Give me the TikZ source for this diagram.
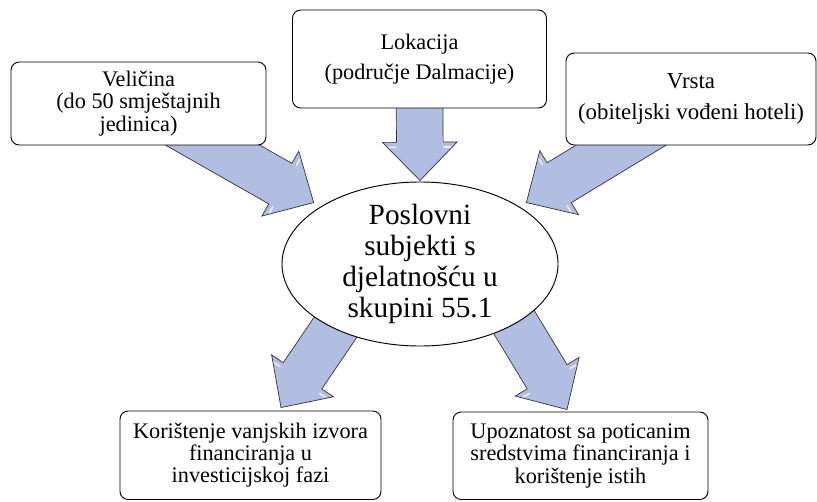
\documentclass[tikz,border=0pt]{standalone}
\usepackage{fontspec}
\setmainfont{Liberation Serif}
\usetikzlibrary{shapes,calc,backgrounds,positioning}
\definecolor{arrowblue}{RGB}{178,190,225}

% block arrow from a tail point to a tip point
\newcommand{\blockarrow}[2]{%
  \coordinate (hb) at ($(#2)!1.15cm!(#1)$);
  \coordinate (gl) at ($(#2)!1.0cm!(#1)$);
  \draw[blockarr] ($(#1)!0.7cm!90:(#2)$) -- ($(hb)!0.7cm!90:(#2)$) -- ($(hb)!1.12cm!90:(#2)$)
    -- (#2) -- ($(hb)!1.12cm!-90:(#2)$) -- ($(hb)!0.7cm!-90:(#2)$) -- ($(#1)!0.7cm!-90:(#2)$) -- cycle;
  % gloss
  \draw[gloss] ($(gl)!0.72cm!90:(#2)$) -- ($(gl)!0.92cm!90:(#2)$);
  \draw[gloss] ($(gl)!0.72cm!-90:(#2)$) -- ($(gl)!0.92cm!-90:(#2)$);
}

\begin{document}
\begin{tikzpicture}[x=0.03cm,y=-0.03cm,
  factor/.style={draw,line width=0.8pt,rounded corners=7pt,fill=white,align=center,inner sep=2pt,font=\fontsize{19}{19}\selectfont},
  subject/.style={draw,line width=0.8pt,ellipse,fill=white,align=center,inner sep=-3pt,font=\fontsize{25}{26.4}\selectfont},
  blockarr/.style={fill=arrowblue,draw=black!80,line width=0.6pt,line join=miter},
  gloss/.style={white,opacity=0.75,line width=1.4pt,line cap=round}]
\useasboundingbox (0,0) rectangle (817,501);
%upper boxes
\node[factor,minimum width=7.65cm,minimum height=2.49cm] (vel) at (138.5,103.5) {Veličina\\(do 50 smještajnih\\jedinica)};
\node[factor,minimum width=7.62cm,minimum height=2.94cm,font=\fontsize{19}{25.5}\selectfont] (lok) at (419.5,59) {Lokacija\\(područje Dalmacije)};
\node[factor,minimum width=7.5cm,minimum height=2.76cm,font=\fontsize{19.5}{26}\selectfont] (vrs) at (691,99) {Vrsta\\(obiteljski vođeni hoteli)};
%centre
\node[subject,minimum width=8.28cm,minimum height=4.92cm] (subj) at (420,264) {Poslovni\\subjekti s\\djelatnošću u\\skupini 55.1};
%lower boxes
\node[factor,minimum width=7.83cm,minimum height=2.655cm] (kor) at (250.5,455.25) {Korištenje vanjskih izvora\\financiranja u\\investicijskoj fazi};
\node[factor,minimum width=7.65cm,minimum height=2.625cm] (upo) at (580.5,455.75) {Upoznatost sa poticanim\\sredstvima financiranja i\\korištenje istih};
%arrow ends
\coordinate (t1) at ($(vel.south)+(18.5,-32)$);
\coordinate (h1) at ($(subj.center)!1.07!(subj.150)$);
\coordinate (t2) at ($(lok.south)+(0,-20)$);
\coordinate (h2) at ($(subj.north)+(0,-1)$);
\coordinate (t3) at ($(vrs.south)+(-11,-36)$);
\coordinate (h3) at ($(subj.center)!1.07!(subj.30)$);
\coordinate (t4) at ($(subj.center)+(-66,36)$);
\coordinate (h4) at ($(kor.north)+(30.5,-3)$);
\coordinate (t5) at ($(subj.center)+(80,35)$);
\coordinate (h5) at ($(upo.north)+(-13.5,-2)$);
\begin{scope}[on background layer]
  \blockarrow{t1}{h1}
  \blockarrow{t2}{h2}
  \blockarrow{t3}{h3}
  \blockarrow{t4}{h4}
  \blockarrow{t5}{h5}
\end{scope}
\end{tikzpicture}
\end{document}
